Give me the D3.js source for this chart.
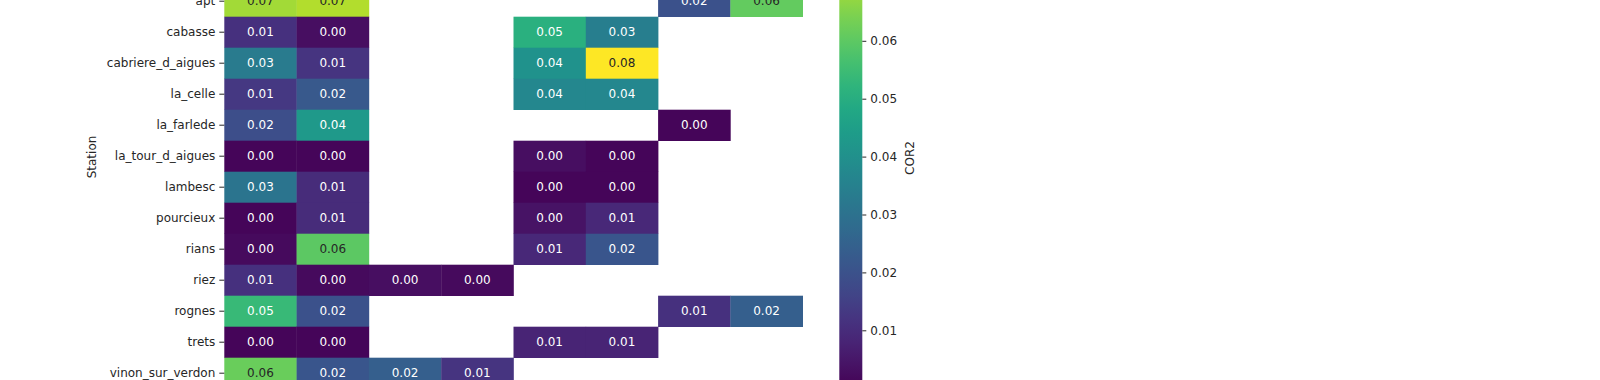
<!DOCTYPE html>
<html>
<head>
<meta charset="utf-8">
<script src="https://cdn.jsdelivr.net/npm/d3@7"></script>
<style>
  html, body { margin: 0; padding: 0; background: #fff; overflow: hidden; }
  svg { display: block; font-family: "DejaVu Sans", sans-serif; }
</style>
</head>
<body>
<svg id="chart" width="1600" height="380"></svg>
<script>
// Visible station rows (top rows of the original figure are cropped off)
const stations = ["apt", "cabasse", "cabriere_d_aigues", "la_celle", "la_farlede",
  "la_tour_d_aigues", "lambesc", "pourcieux", "rians", "riez", "rognes", "trets", "vinon_sur_verdon"];
const columns = ["c1", "c2", "c3", "c4", "c5", "c6", "c7", "c8"];

const apt            = [0.069, 0.071, null, null, null, null, 0.020, 0.061];
const cabasse        = [0.011, 0.003, null, null, 0.051, 0.034, null, null];
const cabriere       = [0.033, 0.012, null, null, 0.041, 0.080, null, null];
const la_celle       = [0.013, 0.022, null, null, 0.037, 0.037, null, null];
const la_farlede     = [0.019, 0.043, null, null, null, null, 0.001, null];
const la_tour        = [0.001, 0.001, null, null, 0.003, 0.001, null, null];
const lambesc        = [0.031, 0.010, null, null, 0.001, 0.001, null, null];
const pourcieux      = [0.001, 0.010, null, null, 0.004, 0.009, null, null];
const rians          = [0.002, 0.060, null, null, 0.009, 0.021, null, null];
const riez           = [0.011, 0.002, 0.003, 0.002, null, null, null, null];
const rognes         = [0.054, 0.020, null, null, null, null, 0.011, 0.024];
const trets          = [0.001, 0.001, null, null, 0.008, 0.008, null, null];
const vinon          = [0.062, 0.021, 0.024, 0.012, null, null, null, null];

const rows = [apt, cabasse, cabriere, la_celle, la_farlede, la_tour, lambesc,
  pourcieux, rians, riez, rognes, trets, vinon];

const colorTicks = [0.01, 0.02, 0.03, 0.04, 0.05, 0.06, 0.07, 0.08];
const vmin = 0, vmax = 0.0802;

const cells = [];
rows.forEach((r, i) => r.forEach((v, j) => {
  if (v !== null) cells.push({ station: stations[i], col: columns[j], value: v });
}));

const svg = d3.select("#chart");

const x = d3.scaleBand().domain(columns).range([224.3, 802.7]).padding(0);
const y = d3.scaleBand().domain(stations).range([-14.3, 388.7]).padding(0);
const color = d3.scaleSequential(d3.interpolateViridis).domain([vmin, vmax]);

function luminance(c) {
  const rgb = d3.rgb(c);
  const f = v => { v /= 255; return v <= 0.03928 ? v / 12.92 : Math.pow((v + 0.055) / 1.055, 2.4); };
  return 0.2126 * f(rgb.r) + 0.7152 * f(rgb.g) + 0.0722 * f(rgb.b);
}

const g = svg.append("g");
g.selectAll("rect.cell").data(cells).join("rect")
  .attr("class", "cell")
  .attr("x", d => x(d.col))
  .attr("y", d => y(d.station))
  .attr("width", x.bandwidth() + 0.3)
  .attr("height", y.bandwidth() + 0.3)
  .attr("fill", d => color(d.value));

g.selectAll("text.annot").data(cells).join("text")
  .attr("class", "annot")
  .attr("x", d => x(d.col) + x.bandwidth() / 2)
  .attr("y", d => y(d.station) + y.bandwidth() / 2)
  .attr("text-anchor", "middle")
  .attr("dominant-baseline", "central")
  .attr("font-size", 12)
  .attr("fill", d => luminance(color(d.value)) > 0.408 ? "#262626" : "#ffffff")
  .text(d => d3.format(".2f")(d.value));

// Y axis
const yAxis = d3.axisLeft(y).tickSize(5).tickPadding(4);
const ya = svg.append("g").attr("transform", "translate(224.3,0)").call(yAxis);
ya.select(".domain").remove();
ya.selectAll(".tick line").attr("stroke", "#262626").attr("stroke-width", 1);
ya.selectAll(".tick text").attr("font-size", 12).attr("fill", "#262626")
  .attr("font-family", "DejaVu Sans, sans-serif");

svg.append("text")
  .attr("transform", "translate(96,157) rotate(-90)")
  .attr("text-anchor", "middle")
  .attr("font-size", 12)
  .attr("fill", "#262626")
  .text("Station");

// Colorbar
const cy = d3.scaleLinear().domain([vmin, vmax]).range([388.2, 388.2 - vmax * 5790]);
const defs = svg.append("defs");
const grad = defs.append("linearGradient").attr("id", "cbar")
  .attr("x1", 0).attr("y1", 1).attr("x2", 0).attr("y2", 0);
d3.range(0, 1.0001, 0.05).forEach(t => {
  grad.append("stop").attr("offset", t).attr("stop-color", color(vmin + t * (vmax - vmin)));
});
const cbX = 839.3, cbW = 23;
svg.append("rect")
  .attr("x", cbX).attr("y", cy(vmax))
  .attr("width", cbW).attr("height", cy(vmin) - cy(vmax))
  .attr("fill", "url(#cbar)");

const cAxis = d3.axisRight(cy).tickValues(colorTicks).tickFormat(d3.format(".2f")).tickSize(4).tickPadding(4);
const ca = svg.append("g").attr("transform", `translate(${cbX + cbW},0)`).call(cAxis);
ca.select(".domain").remove();
ca.selectAll(".tick line").attr("stroke", "#262626");
ca.selectAll(".tick text").attr("font-size", 12).attr("fill", "#262626")
  .attr("font-family", "DejaVu Sans, sans-serif");

svg.append("text")
  .attr("transform", "translate(914,158) rotate(-90)")
  .attr("text-anchor", "middle")
  .attr("font-size", 12)
  .attr("fill", "#262626")
  .text("COR2");
</script>
</body>
</html>
